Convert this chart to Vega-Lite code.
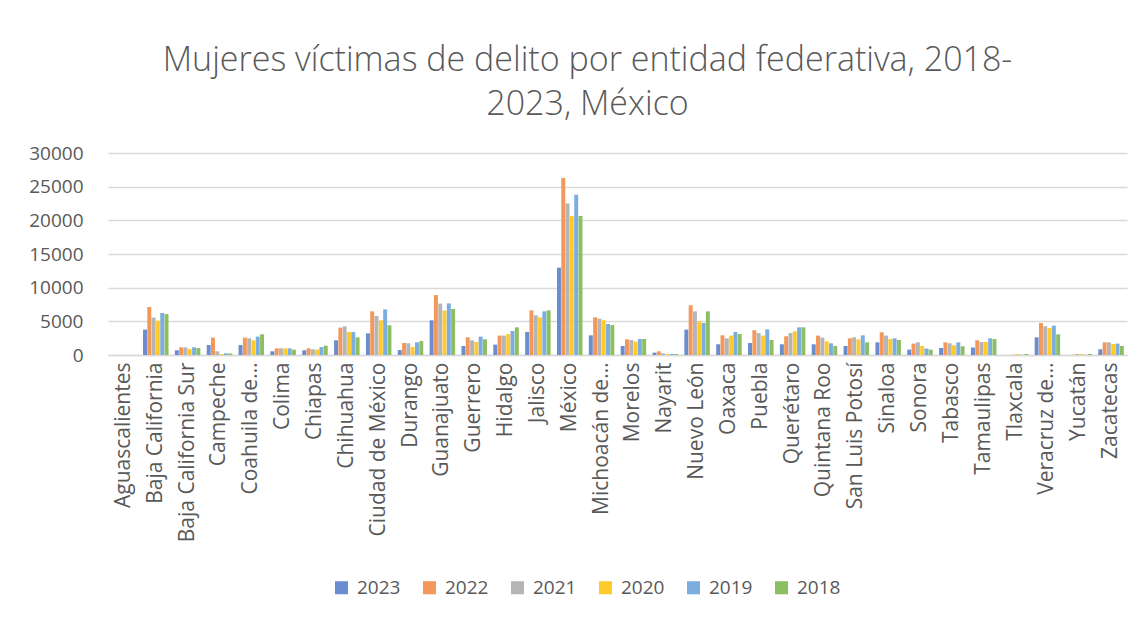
{
  "$schema": "https://vega.github.io/schema/vega-lite/v6.json",
  "autosize": "none",
  "width": 1019,
  "height": 202,
  "padding": {"left": 108, "top": 153, "right": 18, "bottom": 267},
  "background": "white",
  "title": {
    "text": ["Mujeres víctimas de delito por entidad federativa, 2018-", "2023, México"],
    "font": "Open Sans",
    "fontSize": 34,
    "fontWeight": 300,
    "color": "#595959",
    "anchor": "middle",
    "baseline": "bottom",
    "lineHeight": 44,
    "offset": 30,
    "dy": 42,
    "dx": -30
  },
  "data": {
    "values": [
      {"entidad": "Aguascalientes", "anio": "2023", "valor": 0},
      {"entidad": "Aguascalientes", "anio": "2022", "valor": 0},
      {"entidad": "Aguascalientes", "anio": "2021", "valor": 0},
      {"entidad": "Aguascalientes", "anio": "2020", "valor": 0},
      {"entidad": "Aguascalientes", "anio": "2019", "valor": 0},
      {"entidad": "Aguascalientes", "anio": "2018", "valor": 0},
      {"entidad": "Baja California", "anio": "2023", "valor": 3770},
      {"entidad": "Baja California", "anio": "2022", "valor": 7120},
      {"entidad": "Baja California", "anio": "2021", "valor": 5550},
      {"entidad": "Baja California", "anio": "2020", "valor": 5100},
      {"entidad": "Baja California", "anio": "2019", "valor": 6230},
      {"entidad": "Baja California", "anio": "2018", "valor": 6080},
      {"entidad": "Baja California Sur", "anio": "2023", "valor": 700},
      {"entidad": "Baja California Sur", "anio": "2022", "valor": 1140},
      {"entidad": "Baja California Sur", "anio": "2021", "valor": 1140},
      {"entidad": "Baja California Sur", "anio": "2020", "valor": 890},
      {"entidad": "Baja California Sur", "anio": "2019", "valor": 1140},
      {"entidad": "Baja California Sur", "anio": "2018", "valor": 1040},
      {"entidad": "Campeche", "anio": "2023", "valor": 1480},
      {"entidad": "Campeche", "anio": "2022", "valor": 2580},
      {"entidad": "Campeche", "anio": "2021", "valor": 550},
      {"entidad": "Campeche", "anio": "2020", "valor": 150},
      {"entidad": "Campeche", "anio": "2019", "valor": 250},
      {"entidad": "Campeche", "anio": "2018", "valor": 220},
      {"entidad": "Coahuila de…", "anio": "2023", "valor": 1480},
      {"entidad": "Coahuila de…", "anio": "2022", "valor": 2580},
      {"entidad": "Coahuila de…", "anio": "2021", "valor": 2480},
      {"entidad": "Coahuila de…", "anio": "2020", "valor": 2180},
      {"entidad": "Coahuila de…", "anio": "2019", "valor": 2730},
      {"entidad": "Coahuila de…", "anio": "2018", "valor": 3070},
      {"entidad": "Colima", "anio": "2023", "valor": 550},
      {"entidad": "Colima", "anio": "2022", "valor": 990},
      {"entidad": "Colima", "anio": "2021", "valor": 990},
      {"entidad": "Colima", "anio": "2020", "valor": 990},
      {"entidad": "Colima", "anio": "2019", "valor": 990},
      {"entidad": "Colima", "anio": "2018", "valor": 800},
      {"entidad": "Chiapas", "anio": "2023", "valor": 700},
      {"entidad": "Chiapas", "anio": "2022", "valor": 990},
      {"entidad": "Chiapas", "anio": "2021", "valor": 850},
      {"entidad": "Chiapas", "anio": "2020", "valor": 800},
      {"entidad": "Chiapas", "anio": "2019", "valor": 1190},
      {"entidad": "Chiapas", "anio": "2018", "valor": 1390},
      {"entidad": "Chihuahua", "anio": "2023", "valor": 2180},
      {"entidad": "Chihuahua", "anio": "2022", "valor": 4070},
      {"entidad": "Chihuahua", "anio": "2021", "valor": 4260},
      {"entidad": "Chihuahua", "anio": "2020", "valor": 3410},
      {"entidad": "Chihuahua", "anio": "2019", "valor": 3410},
      {"entidad": "Chihuahua", "anio": "2018", "valor": 2630},
      {"entidad": "Ciudad de México", "anio": "2023", "valor": 3220},
      {"entidad": "Ciudad de México", "anio": "2022", "valor": 6480},
      {"entidad": "Ciudad de México", "anio": "2021", "valor": 5790},
      {"entidad": "Ciudad de México", "anio": "2020", "valor": 5150},
      {"entidad": "Ciudad de México", "anio": "2019", "valor": 6780},
      {"entidad": "Ciudad de México", "anio": "2018", "valor": 4410},
      {"entidad": "Durango", "anio": "2023", "valor": 740},
      {"entidad": "Durango", "anio": "2022", "valor": 1780},
      {"entidad": "Durango", "anio": "2021", "valor": 1740},
      {"entidad": "Durango", "anio": "2020", "valor": 1190},
      {"entidad": "Durango", "anio": "2019", "valor": 1880},
      {"entidad": "Durango", "anio": "2018", "valor": 2080},
      {"entidad": "Guanajuato", "anio": "2023", "valor": 5150},
      {"entidad": "Guanajuato", "anio": "2022", "valor": 8900},
      {"entidad": "Guanajuato", "anio": "2021", "valor": 7630},
      {"entidad": "Guanajuato", "anio": "2020", "valor": 6590},
      {"entidad": "Guanajuato", "anio": "2019", "valor": 7670},
      {"entidad": "Guanajuato", "anio": "2018", "valor": 6830},
      {"entidad": "Guerrero", "anio": "2023", "valor": 1340},
      {"entidad": "Guerrero", "anio": "2022", "valor": 2630},
      {"entidad": "Guerrero", "anio": "2021", "valor": 2180},
      {"entidad": "Guerrero", "anio": "2020", "valor": 1930},
      {"entidad": "Guerrero", "anio": "2019", "valor": 2730},
      {"entidad": "Guerrero", "anio": "2018", "valor": 2330},
      {"entidad": "Hidalgo", "anio": "2023", "valor": 1540},
      {"entidad": "Hidalgo", "anio": "2022", "valor": 2880},
      {"entidad": "Hidalgo", "anio": "2021", "valor": 2880},
      {"entidad": "Hidalgo", "anio": "2020", "valor": 3120},
      {"entidad": "Hidalgo", "anio": "2019", "valor": 3560},
      {"entidad": "Hidalgo", "anio": "2018", "valor": 4110},
      {"entidad": "Jalisco", "anio": "2023", "valor": 3410},
      {"entidad": "Jalisco", "anio": "2022", "valor": 6630},
      {"entidad": "Jalisco", "anio": "2021", "valor": 5890},
      {"entidad": "Jalisco", "anio": "2020", "valor": 5590},
      {"entidad": "Jalisco", "anio": "2019", "valor": 6480},
      {"entidad": "Jalisco", "anio": "2018", "valor": 6630},
      {"entidad": "México", "anio": "2023", "valor": 12970},
      {"entidad": "México", "anio": "2022", "valor": 26270},
      {"entidad": "México", "anio": "2021", "valor": 22510},
      {"entidad": "México", "anio": "2020", "valor": 20630},
      {"entidad": "México", "anio": "2019", "valor": 23800},
      {"entidad": "México", "anio": "2018", "valor": 20630},
      {"entidad": "Michoacán de…", "anio": "2023", "valor": 2920},
      {"entidad": "Michoacán de…", "anio": "2022", "valor": 5590},
      {"entidad": "Michoacán de…", "anio": "2021", "valor": 5400},
      {"entidad": "Michoacán de…", "anio": "2020", "valor": 5150},
      {"entidad": "Michoacán de…", "anio": "2019", "valor": 4600},
      {"entidad": "Michoacán de…", "anio": "2018", "valor": 4450},
      {"entidad": "Morelos", "anio": "2023", "valor": 1340},
      {"entidad": "Morelos", "anio": "2022", "valor": 2330},
      {"entidad": "Morelos", "anio": "2021", "valor": 2230},
      {"entidad": "Morelos", "anio": "2020", "valor": 1990},
      {"entidad": "Morelos", "anio": "2019", "valor": 2370},
      {"entidad": "Morelos", "anio": "2018", "valor": 2370},
      {"entidad": "Nayarit", "anio": "2023", "valor": 350},
      {"entidad": "Nayarit", "anio": "2022", "valor": 550},
      {"entidad": "Nayarit", "anio": "2021", "valor": 250},
      {"entidad": "Nayarit", "anio": "2020", "valor": 150},
      {"entidad": "Nayarit", "anio": "2019", "valor": 150},
      {"entidad": "Nayarit", "anio": "2018", "valor": 150},
      {"entidad": "Nuevo León", "anio": "2023", "valor": 3770},
      {"entidad": "Nuevo León", "anio": "2022", "valor": 7380},
      {"entidad": "Nuevo León", "anio": "2021", "valor": 6480},
      {"entidad": "Nuevo León", "anio": "2020", "valor": 5000},
      {"entidad": "Nuevo León", "anio": "2019", "valor": 4750},
      {"entidad": "Nuevo León", "anio": "2018", "valor": 6480},
      {"entidad": "Oaxaca", "anio": "2023", "valor": 1590},
      {"entidad": "Oaxaca", "anio": "2022", "valor": 2920},
      {"entidad": "Oaxaca", "anio": "2021", "valor": 2480},
      {"entidad": "Oaxaca", "anio": "2020", "valor": 2880},
      {"entidad": "Oaxaca", "anio": "2019", "valor": 3410},
      {"entidad": "Oaxaca", "anio": "2018", "valor": 3120},
      {"entidad": "Puebla", "anio": "2023", "valor": 1780},
      {"entidad": "Puebla", "anio": "2022", "valor": 3670},
      {"entidad": "Puebla", "anio": "2021", "valor": 3260},
      {"entidad": "Puebla", "anio": "2020", "valor": 2880},
      {"entidad": "Puebla", "anio": "2019", "valor": 3810},
      {"entidad": "Puebla", "anio": "2018", "valor": 2230},
      {"entidad": "Querétaro", "anio": "2023", "valor": 1590},
      {"entidad": "Querétaro", "anio": "2022", "valor": 2780},
      {"entidad": "Querétaro", "anio": "2021", "valor": 3260},
      {"entidad": "Querétaro", "anio": "2020", "valor": 3520},
      {"entidad": "Querétaro", "anio": "2019", "valor": 4110},
      {"entidad": "Querétaro", "anio": "2018", "valor": 4110},
      {"entidad": "Quintana Roo", "anio": "2023", "valor": 1590},
      {"entidad": "Quintana Roo", "anio": "2022", "valor": 2880},
      {"entidad": "Quintana Roo", "anio": "2021", "valor": 2580},
      {"entidad": "Quintana Roo", "anio": "2020", "valor": 2030},
      {"entidad": "Quintana Roo", "anio": "2019", "valor": 1740},
      {"entidad": "Quintana Roo", "anio": "2018", "valor": 1340},
      {"entidad": "San Luis Potosí", "anio": "2023", "valor": 1340},
      {"entidad": "San Luis Potosí", "anio": "2022", "valor": 2480},
      {"entidad": "San Luis Potosí", "anio": "2021", "valor": 2630},
      {"entidad": "San Luis Potosí", "anio": "2020", "valor": 2330},
      {"entidad": "San Luis Potosí", "anio": "2019", "valor": 2920},
      {"entidad": "San Luis Potosí", "anio": "2018", "valor": 1880},
      {"entidad": "Sinaloa", "anio": "2023", "valor": 1880},
      {"entidad": "Sinaloa", "anio": "2022", "valor": 3370},
      {"entidad": "Sinaloa", "anio": "2021", "valor": 2880},
      {"entidad": "Sinaloa", "anio": "2020", "valor": 2370},
      {"entidad": "Sinaloa", "anio": "2019", "valor": 2480},
      {"entidad": "Sinaloa", "anio": "2018", "valor": 2230},
      {"entidad": "Sonora", "anio": "2023", "valor": 800},
      {"entidad": "Sonora", "anio": "2022", "valor": 1690},
      {"entidad": "Sonora", "anio": "2021", "valor": 1880},
      {"entidad": "Sonora", "anio": "2020", "valor": 1340},
      {"entidad": "Sonora", "anio": "2019", "valor": 950},
      {"entidad": "Sonora", "anio": "2018", "valor": 800},
      {"entidad": "Tabasco", "anio": "2023", "valor": 1040},
      {"entidad": "Tabasco", "anio": "2022", "valor": 1880},
      {"entidad": "Tabasco", "anio": "2021", "valor": 1740},
      {"entidad": "Tabasco", "anio": "2020", "valor": 1440},
      {"entidad": "Tabasco", "anio": "2019", "valor": 1880},
      {"entidad": "Tabasco", "anio": "2018", "valor": 1290},
      {"entidad": "Tamaulipas", "anio": "2023", "valor": 1100},
      {"entidad": "Tamaulipas", "anio": "2022", "valor": 2180},
      {"entidad": "Tamaulipas", "anio": "2021", "valor": 1930},
      {"entidad": "Tamaulipas", "anio": "2020", "valor": 1930},
      {"entidad": "Tamaulipas", "anio": "2019", "valor": 2480},
      {"entidad": "Tamaulipas", "anio": "2018", "valor": 2370},
      {"entidad": "Tlaxcala", "anio": "2023", "valor": 0},
      {"entidad": "Tlaxcala", "anio": "2022", "valor": 0},
      {"entidad": "Tlaxcala", "anio": "2021", "valor": 40},
      {"entidad": "Tlaxcala", "anio": "2020", "valor": 150},
      {"entidad": "Tlaxcala", "anio": "2019", "valor": 40},
      {"entidad": "Tlaxcala", "anio": "2018", "valor": 150},
      {"entidad": "Veracruz de…", "anio": "2023", "valor": 2630},
      {"entidad": "Veracruz de…", "anio": "2022", "valor": 4750},
      {"entidad": "Veracruz de…", "anio": "2021", "valor": 4260},
      {"entidad": "Veracruz de…", "anio": "2020", "valor": 4010},
      {"entidad": "Veracruz de…", "anio": "2019", "valor": 4360},
      {"entidad": "Veracruz de…", "anio": "2018", "valor": 3070},
      {"entidad": "Yucatán", "anio": "2023", "valor": 0},
      {"entidad": "Yucatán", "anio": "2022", "valor": 40},
      {"entidad": "Yucatán", "anio": "2021", "valor": 150},
      {"entidad": "Yucatán", "anio": "2020", "valor": 150},
      {"entidad": "Yucatán", "anio": "2019", "valor": 40},
      {"entidad": "Yucatán", "anio": "2018", "valor": 150},
      {"entidad": "Zacatecas", "anio": "2023", "valor": 850},
      {"entidad": "Zacatecas", "anio": "2022", "valor": 1880},
      {"entidad": "Zacatecas", "anio": "2021", "valor": 1880},
      {"entidad": "Zacatecas", "anio": "2020", "valor": 1630},
      {"entidad": "Zacatecas", "anio": "2019", "valor": 1690},
      {"entidad": "Zacatecas", "anio": "2018", "valor": 1340}
    ]
  },
  "mark": {"type": "bar"},
  "encoding": {
    "x": {
      "field": "entidad",
      "type": "nominal",
      "sort": null,
      "scale": {"paddingInner": 0.2, "paddingOuter": 0.1},
      "axis": {
        "title": null,
        "labelAngle": -90,
        "labelFont": "Open Sans",
        "labelFontSize": 21,
        "labelColor": "#595959",
        "labelPadding": 7,
        "labelLimit": 300,
        "ticks": false,
        "domainColor": "#d9d9d9",
        "domainWidth": 1.5,
        "grid": false
      }
    },
    "xOffset": {
      "field": "anio",
      "type": "nominal",
      "sort": ["2023", "2022", "2021", "2020", "2019", "2018"],
      "scale": {"paddingInner": 0.08}
    },
    "y": {
      "field": "valor",
      "type": "quantitative",
      "scale": {"domain": [0, 30000], "nice": false},
      "axis": {
        "title": null,
        "values": [0, 5000, 10000, 15000, 20000, 25000, 30000],
        "format": "d",
        "labelFont": "Open Sans",
        "labelFontSize": 19,
        "labelColor": "#595959",
        "labelPadding": 25,
        "ticks": false,
        "domain": false,
        "gridColor": "#d9d9d9",
        "gridWidth": 1.5
      }
    },
    "color": {
      "field": "anio",
      "type": "nominal",
      "sort": ["2023", "2022", "2021", "2020", "2019", "2018"],
      "scale": {
        "domain": ["2023", "2022", "2021", "2020", "2019", "2018"],
        "range": ["#6A8DD0", "#F3975A", "#B5B5B5", "#FFCA2C", "#7BADDE", "#8CBF63"]
      },
      "legend": {
        "title": null,
        "orient": "none",
        "direction": "horizontal",
        "legendX": 224,
        "legendY": 425,
        "symbolType": "square",
        "symbolSize": 170,
        "symbolStrokeWidth": 0,
        "symbolOpacity": 1,
        "labelFont": "Open Sans",
        "labelFontSize": 19,
        "labelColor": "#595959",
        "labelOffset": 6,
        "columnPadding": 19
      }
    }
  },
  "config": {
    "view": {"stroke": null}
  }
}
